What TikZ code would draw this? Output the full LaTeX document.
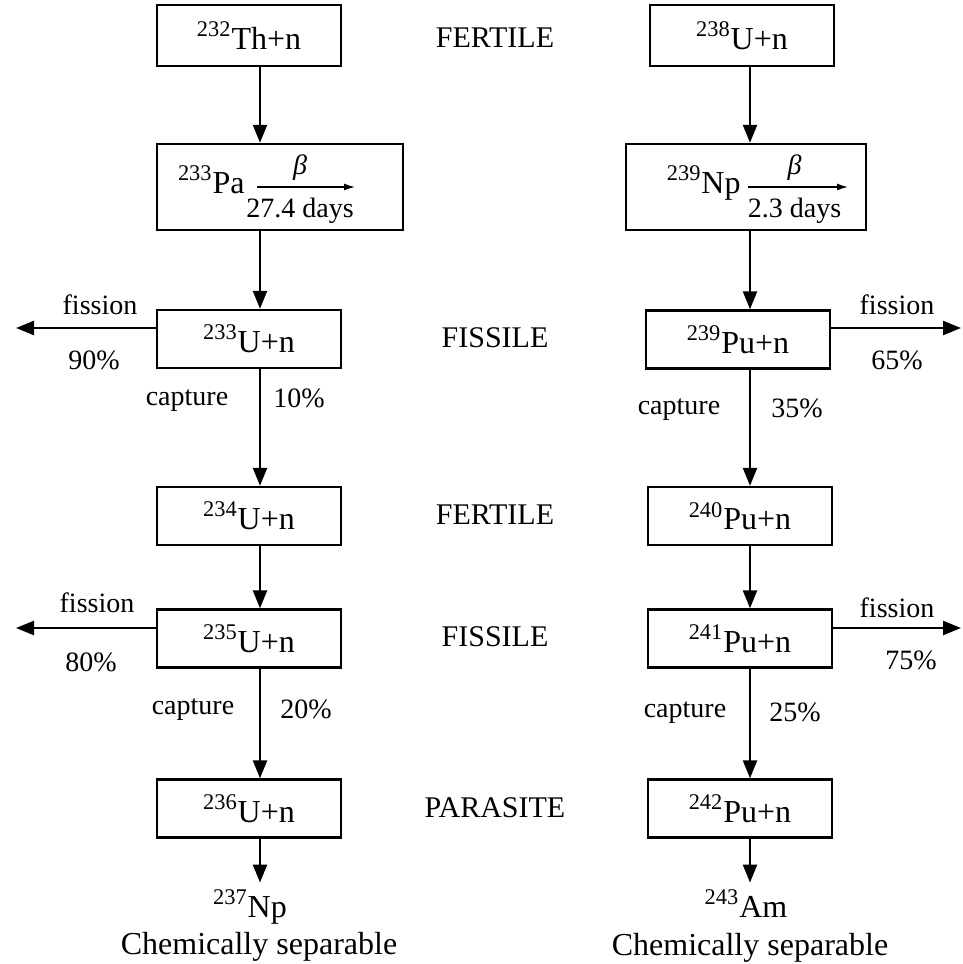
\documentclass[tikz,border=0pt]{standalone}
\usepackage{fontspec}
\setmainfont{Liberation Serif}
\usetikzlibrary{arrows.meta}

\tikzset{
  box/.style={draw, line width=1.2pt, minimum width=92pt, minimum height=29pt, inner sep=0pt, font=\fontsize{16}{18}\selectfont},
  flow/.style={-{Triangle[length=9pt,width=7pt]}, line width=1.2pt},
  decay/.style={-{Latex[length=5.5pt,width=3.5pt]}, line width=0.7pt},
  lbl/.style={inner sep=0pt, font=\fontsize{14}{16}\selectfont},
  kind/.style={inner sep=0pt, font=\fontsize{15}{17}\selectfont},
  iso/.style={font=\fontsize{16}{18}\selectfont},
  sep/.style={inner sep=0pt, font=\fontsize{16}{18}\selectfont},
}

\begin{document}
\begin{tikzpicture}[x=0.5pt, y=-0.5pt]

  \useasboundingbox (0,0) rectangle (963,964);

  \coordinate (colL) at (260,0);
  \coordinate (colR) at (750,0);

  \node (th232) [box, minimum height=30.5pt] at (249,35.5) {\textsuperscript{232}Th+n};
  \node (pa233) [box, minimum width=123pt, minimum height=43pt] at (280,187) {};
  \node (u233) [box] at (249,339) {\textsuperscript{233}U+n};
  \node (u234) [box] at (249,516) {\textsuperscript{234}U+n};
  \node (u235) [box] at (249,638.5) {\textsuperscript{235}U+n};
  \node (u236) [box] at (249,808.5) {\textsuperscript{236}U+n};

  \node (u238) [box, minimum height=30.5pt] at (742,35.5) {\textsuperscript{238}U+n};
  \node (np239) [box, minimum width=120pt, minimum height=43pt] at (746,187) {};
  \node (pu239) [box] at (738,339.5) {\textsuperscript{239}Pu+n};
  \node (pu240) [box] at (740,516) {\textsuperscript{240}Pu+n};
  \node (pu241) [box] at (740,638.5) {\textsuperscript{241}Pu+n};
  \node (pu242) [box] at (740,808.5) {\textsuperscript{242}Pu+n};

  \node (pa) [iso, anchor=base east, inner sep=0pt] at (245,193) {\textsuperscript{233}Pa};
  \coordinate (paend) at (355,187);
  \draw [decay, shorten <=6pt] (pa.east |- paend) -- (paend)
    node (pabeta) [lbl, midway, above=3pt] {\itshape β}
    node (padays) [lbl, midway, below=5pt] {27.4 days};

  \node (np) [iso, anchor=base east, inner sep=0pt] at (741,193) {\textsuperscript{239}Np};
  \coordinate (npend) at (848,187);
  \draw [decay, shorten <=3.5pt] (np.east |- npend) -- (npend)
    node (npbeta) [lbl, midway, above=3pt] {\itshape β}
    node (npdays) [lbl, midway, below=5pt] {2.3 days};

  \node (fert1) [kind] at (495,38) {FERTILE};
  \node (fiss1) [kind] at (495,338) {FISSILE};
  \node (fert2) [kind] at (495,515) {FERTILE};
  \node (fiss2) [kind] at (495,637) {FISSILE};
  \node (para) [kind] at (495,808) {PARASITE};

  \draw [flow] (th232.south -| colL) -- (pa233.north -| colL);
  \draw [flow] (pa233.south -| colL) -- (u233.north -| colL);
  \draw [flow] (u233.south -| colL) -- (u234.north -| colL);
  \draw [flow] (u234.south -| colL) -- (u235.north -| colL);
  \draw [flow] (u235.south -| colL) -- (u236.north -| colL);

  \draw [flow] (u238.south -| colR) -- (np239.north -| colR);
  \draw [flow] (np239.south -| colR) -- (pu239.north -| colR);
  \draw [flow] (pu239.south -| colR) -- (pu240.north -| colR);
  \draw [flow] (pu240.south -| colR) -- (pu241.north -| colR);
  \draw [flow] (pu241.south -| colR) -- (pu242.north -| colR);

  \coordinate (fisL1) at (16,328);
  \coordinate (fisR1) at (961,328);
  \coordinate (fisL2) at (16,628);
  \coordinate (fisR2) at (961,628);
  \draw [flow] (u233.west |- fisL1) -- (fisL1);
  \draw [flow] (pu239.east |- fisR1) -- (fisR1);
  \draw [flow] (u235.west |- fisL2) -- (fisL2);
  \draw [flow] (pu241.east |- fisR2) -- (fisR2);

  \node (fisl1) [lbl] at (100,305) {fission};
  \node (pcl1) [lbl] at (94,360) {90\%};
  \node (capl1) [lbl] at (187,401) {capture};
  \node (pkl1) [lbl] at (299,398) {10\%};
  \node (fisr1) [lbl] at (897,305) {fission};
  \node (pcr1) [lbl] at (897,360) {65\%};
  \node (capr1) [lbl] at (679,410) {capture};
  \node (pkr1) [lbl] at (797,408) {35\%};

  \node (fisl2) [lbl] at (97,603) {fission};
  \node (pcl2) [lbl] at (91,662) {80\%};
  \node (capl2) [lbl] at (193,710) {capture};
  \node (pkl2) [lbl] at (306,709) {20\%};
  \node (fisr2) [lbl] at (897,608) {fission};
  \node (pcr2) [lbl] at (911,660) {75\%};
  \node (capr2) [lbl] at (685,713) {capture};
  \node (pkr2) [lbl] at (795,712) {25\%};

  \node (np237) [iso, anchor=base] at (250,917) {\textsuperscript{237}Np};
  \node (sepl) [sep] at (259,947) {Chemically separable};
  \node (am243) [iso, anchor=base] at (746,917) {\textsuperscript{243}Am};
  \node (sepr) [sep] at (750,948) {Chemically separable};

  \draw [flow] (u236.south -| colL) -- (np237.north -| colL);
  \draw [flow] (pu242.south -| colR) -- (am243.north -| colR);

\end{tikzpicture}
\end{document}
